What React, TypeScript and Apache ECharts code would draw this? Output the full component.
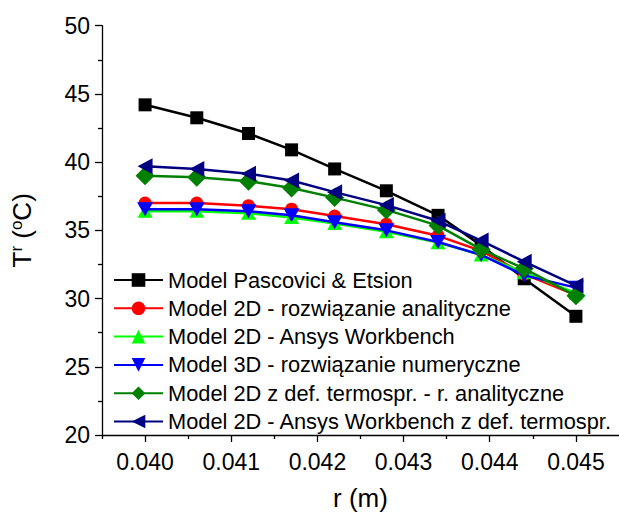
import React, { useEffect, useRef } from "react";
import * as echarts from "echarts";

const rValues = [0.04, 0.0406, 0.0412, 0.0417, 0.0422, 0.0428, 0.0434, 0.0439, 0.0444, 0.045];
const pascovici = [44.2, 43.25, 42.1, 40.9, 39.5, 37.9, 36.1, 33.9, 31.45, 28.7];
const model2DAnal = [37.0, 37.0, 36.8, 36.55, 36.05, 35.45, 34.6, 33.5, 31.8, 30.25];
const model2DAnsys = [36.4, 36.4, 36.25, 35.95, 35.5, 34.9, 34.1, 33.2, 31.9, 30.4];
const model3DNum = [36.55, 36.55, 36.4, 36.1, 35.6, 35.0, 34.15, 33.2, 31.7, 30.8];
const model2DDefAnal = [39.0, 38.9, 38.6, 38.1, 37.4, 36.5, 35.35, 33.6, 32.2, 30.2];
const model2DDefAnsys = [39.7, 39.5, 39.15, 38.65, 37.8, 36.85, 35.7, 34.25, 32.7, 30.95];

const seriesNames = [
  "Model Pascovici & Etsion",
  "Model 2D - rozwiązanie analityczne",
  "Model 2D - Ansys Workbench",
  "Model 3D - rozwiązanie numeryczne",
  "Model 2D z def. termospr. - r. analityczne",
  "Model 2D - Ansys Workbench z def. termospr.",
];

const xMajorTicks = [0.04, 0.041, 0.042, 0.043, 0.044, 0.045];
const xMinorTicks = [0.0395, 0.0405, 0.0415, 0.0425, 0.0435, 0.0445];

const FONT = "'Liberation Sans', Arial, sans-serif";

export default function App() {
  const ref = useRef<HTMLDivElement>(null);

  useEffect(() => {
    document.body.style.margin = "0";
    if (!ref.current) return;
    const chart = echarts.init(ref.current, null, { renderer: "svg" });

    const pairs = (ys: number[]) => rValues.map((x, i) => [x, ys[i]]);

    const styles = [
      { data: pascovici, color: "#000000", symbol: "rect", size: 13, rotate: 0 },
      { data: model2DAnal, color: "#ff0000", symbol: "circle", size: 13, rotate: 0 },
      { data: model2DAnsys, color: "#00ff00", symbol: "triangle", size: [15, 13], rotate: 0 },
      { data: model3DNum, color: "#0000ff", symbol: "triangle", size: [16, 14], rotate: 180 },
      { data: model2DDefAnal, color: "#008000", symbol: "diamond", size: 19, rotate: 0 },
      { data: model2DDefAnsys, color: "#000080", symbol: "triangle", size: [16, 15], rotate: 90 },
    ];

    chart.setOption({
      animation: false,
      backgroundColor: "#ffffff",
      textStyle: { fontFamily: FONT },
      grid: { left: 99.5, top: 25.7, width: 520.6, height: 411, containLabel: false },
      legend: {
        orient: "vertical",
        left: 108,
        top: 264,
        itemWidth: 49,
        itemHeight: 17,
        itemGap: 6.3,
        textStyle: { fontFamily: FONT, fontSize: 21.8, color: "#000", lineHeight: 22 },
        data: seriesNames,
      },
      xAxis: [
        {
          type: "value",
          position: "bottom",
          min: 0.0395,
          max: 0.0455,
          name: "r (m)",
          nameLocation: "middle",
          nameGap: 50,
          nameTextStyle: { fontFamily: FONT, fontSize: 26, color: "#000" },
          axisLine: { show: true, onZero: false, lineStyle: { color: "#000", width: 1.3 } },
          axisTick: { show: true, length: 7, lineStyle: { color: "#000", width: 1.3 }, customValues: xMajorTicks },
          axisLabel: {
            fontFamily: FONT,
            fontSize: 23,
            color: "#000",
            margin: 15,
            customValues: xMajorTicks,
            formatter: (v: number) => v.toFixed(3),
          },
          splitLine: { show: false },
        },
        {
          type: "value",
          position: "bottom",
          gridIndex: 0,
          min: 0.0395,
          max: 0.0455,
          axisLine: { show: false },
          axisTick: { show: true, length: 4, lineStyle: { color: "#000", width: 1.3 }, customValues: xMinorTicks },
          axisLabel: { show: false },
          splitLine: { show: false },
        },
      ],
      yAxis: {
        type: "value",
        min: 20,
        max: 50,
        interval: 5,
        name: "{a|T}{s|r}{a| (}{s|o}{a|C)}",
        nameLocation: "middle",
        nameRotate: 90,
        nameGap: 66,
        nameTextStyle: {
          fontFamily: FONT,
          color: "#000",
          rich: {
            a: { fontFamily: FONT, fontSize: 26, color: "#000", lineHeight: 28 },
            s: { fontFamily: FONT, fontSize: 17, color: "#000", verticalAlign: "top", lineHeight: 18 },
          },
        },
        axisLine: { show: true, onZero: false, lineStyle: { color: "#000", width: 1.3 } },
        axisTick: { show: true, length: 7, lineStyle: { color: "#000", width: 1.3 } },
        minorTick: { show: true, splitNumber: 2, length: 4, lineStyle: { color: "#000", width: 1.3 } },
        axisLabel: { fontFamily: FONT, fontSize: 23, color: "#000", margin: 12 },
        splitLine: { show: false },
      },
      series: styles.map((s, i) => ({
        type: "line",
        name: seriesNames[i],
        xAxisIndex: 0,
        data: pairs(s.data),
        symbol: s.symbol,
        symbolSize: s.size,
        symbolRotate: s.rotate,
        showAllSymbol: true,
        lineStyle: { color: s.color, width: 2.5 },
        itemStyle: { color: s.color, opacity: 1 },
        emphasis: { disabled: true },
        z: 2 + i,
      })),
    });

    return () => chart.dispose();
  }, []);

  return <div ref={ref} style={{ width: 619, height: 516 }} />;
}
